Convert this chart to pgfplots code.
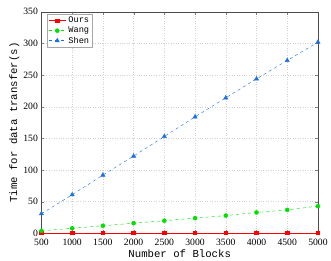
\documentclass[border=0pt]{standalone}
\usepackage{pgfplots}
\pgfplotsset{compat=1.18}
\usepackage{fontspec}
\setmainfont{Liberation Serif}
\newfontfamily\monof{Liberation Mono}
\definecolor{cours}{RGB}{255,0,0}
\definecolor{cwang}{RGB}{0,225,0}
\definecolor{cshen}{RGB}{30,110,230}
\begin{document}
\begin{tikzpicture}
\begin{axis}[
  scale only axis,
  width=272pt, height=218pt,
  xmin=500, xmax=5000, ymin=0, ymax=350,
  xtick={500,1000,...,5000},
  ytick={0,50,...,350},
  tick align=inside,
  major tick length=3pt,
  grid=major,
  grid style={dotted, gray!35},
  axis line style={gray!60!black},
  /pgf/number format/assume math mode=true,
  /pgf/number format/1000 sep={},
  tick label style={font=\fontsize{9.5}{10}\selectfont},
  xticklabel style={yshift=-2pt},
  label style={font=\monof\fontsize{10.5}{11}\selectfont},
  xlabel={Number of Blocks},
  ylabel={Time for data transfer(s)},
  xlabel style={yshift=3pt},
  ylabel style={yshift=-3pt},
  legend style={at={(0.02,0.99)}, anchor=north west, font=\monof\fontsize{8.5}{9}\selectfont, draw=gray!70, inner sep=1pt, row sep=-1.5pt},
  legend cell align=left,
]
\addplot[color=cours, thick, mark=square*, mark size=1.8pt] coordinates {
(500,0.5)(1000,0.5)(1500,0.5)(2000,0.5)(2500,0.5)(3000,0.5)(3500,0.5)(4000,0.5)(4500,0.5)(5000,0.5)};
\addlegendentry{Ours}
\addplot[color=cwang, dashed, mark=*, mark size=2pt, mark options={solid}] coordinates {
(500,4)(1000,8)(1500,12)(2000,16)(2500,20)(3000,24)(3500,28)(4000,33)(4500,37)(5000,43)};
\addlegendentry{Wang}
\addplot[color=cshen, dashed, mark=triangle*, mark size=2.4pt, mark options={solid}] coordinates {
(500,31)(1000,61)(1500,92)(2000,122)(2500,153)(3000,184)(3500,214)(4000,244)(4500,273)(5000,302)};
\addlegendentry{Shen}
\end{axis}
\path (current bounding box.north west) ++(-6pt,5pt);
\end{tikzpicture}
\end{document}
